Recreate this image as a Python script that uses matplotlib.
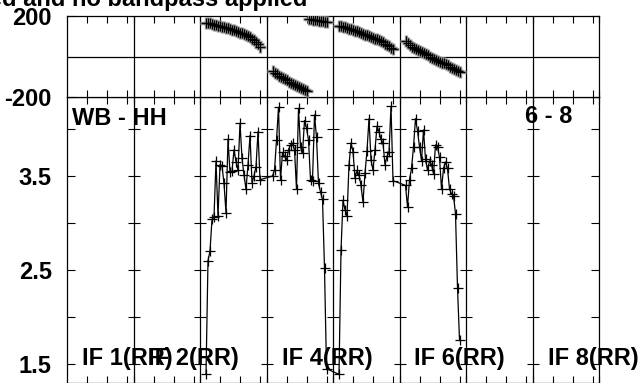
import numpy as np
import matplotlib
matplotlib.use('Agg')
import matplotlib.pyplot as plt

plt.rcParams['font.family'] = ['Liberation Sans', 'DejaVu Sans']
plt.rcParams['font.weight'] = 'bold'

# ---------------- data ----------------
n_panels = 8
panel_width = 33.25                 # channels per IF panel (x units)
channels = np.arange(3, 31)          # 28 plotted channels per IF
data_ifs = [3, 4, 5, 6]

amp_if3 = [1.39, 2.60, 2.70, 3.04, 3.06, 3.66, 3.07, 3.62, 3.61, 3.42, 3.11, 3.89, 3.54, 3.55,
           3.78, 3.65, 3.56, 4.06, 3.69, 3.51, 3.36, 3.62, 3.93, 3.43, 3.50, 3.60, 3.97, 3.46]
amp_if4 = [3.50, 3.56, 3.88, 4.23, 3.46, 3.75, 3.71, 3.67, 3.78, 3.83, 3.85, 3.78, 3.36, 4.22,
           3.81, 3.74, 4.09, 4.01, 3.88, 3.46, 3.45, 4.15, 3.91, 3.42, 3.33, 3.25, 2.52, 1.45]
amp_if5 = [1.39, 2.71, 3.24, 3.14, 3.07, 3.62, 3.85, 3.76, 3.48, 3.56, 3.51, 3.40, 3.22, 3.53,
           3.77, 4.11, 3.67, 3.56, 3.78, 4.03, 3.97, 3.89, 3.85, 3.62, 3.71, 3.75, 4.24, 3.45]
amp_if6 = [3.40, 3.17, 3.46, 3.58, 3.81, 4.11, 3.98, 3.81, 3.66, 3.99, 3.68, 3.56, 3.66, 3.62,
           3.52, 3.83, 3.81, 3.70, 3.36, 3.58, 3.65, 3.58, 3.36, 3.31, 3.29, 3.10, 2.31, 1.76]

phase_if3 = [167, 165, 163, 160, 158, 155, 153, 150, 148, 145, 142, 139, 136, 133,
             129, 126, 122, 118, 114, 110, 105, 100, 94, 88, 80, 72, 60, 45]
phase_if4 = [-74, -81, -87, -94, -100, -106, -112, -118, -124, -130, -135, -140, -145, -150,
             -155, -160, -165, -170, 186, 184, 182, 180, 178, 177, 175, 173, 171, 169]
phase_if5 = [153, 151, 148, 145, 142, 138, 135, 131, 127, 124, 120, 116, 112, 108,
             104, 100, 96, 92, 88, 84, 80, 75, 70, 64, 58, 51, 43, 35]
phase_if6 = [78, 66, 55, 48, 42, 36, 31, 26, 21, 16, 11, 5, 0, -5,
             -10, -15, -20, -25, -30, -34, -39, -44, -50, -55, -61, -67, -73, -78]

amps = [amp_if3, amp_if4, amp_if5, amp_if6]
phases = [phase_if3, phase_if4, phase_if5, phase_if6]

if_labels = ["IF 1(RR)", "IF 2(RR)", "IF 4(RR)", "IF 6(RR)", "IF 8(RR)"]
if_label_panels = [1, 2, 4, 6, 8]

amp_major = [1.5, 2.5, 3.5]
amp_minor = [2.0, 3.0, 4.0]
phase_ticks = [-200, 200]
chan_ticks = [10, 20, 30]

title_text = "ed and no bandpass applied"
left_label = "WB - HH"
right_label = "6 - 8"

# ---------------- figure ----------------
W, H = 642, 383
fig = plt.figure(figsize=(W / 100, H / 100), dpi=100)

x0 = 67 / W
wid = 532 / W
ax_amp = fig.add_axes([x0, 0.0, wid, (H - 97) / H])
ax_ph = fig.add_axes([x0, (H - 97) / H, wid, 81 / H])

xmax = n_panels * panel_width
boundaries = [k * panel_width for k in range(1, n_panels)]
xt = []
for k in range(n_panels):
    for c in chan_ticks:
        xt.append(k * panel_width + c)
    xt.append((k + 1) * panel_width)

for ax in (ax_amp, ax_ph):
    ax.set_xlim(0, xmax)
    ax.set_xticks(xt)
    ax.set_xticklabels([])
    ax.tick_params(axis='x', direction='in', top=True, bottom=True, length=5, width=0.8)
    for s in ax.spines.values():
        s.set_linewidth(0.9)
        s.set_color('black')
    for b in boundaries:
        ax.axvline(b, color='black', lw=0.9, zorder=1)

# amplitude panel
ax_amp.set_ylim(1.298, 4.340)
ax_amp.set_yticks(amp_major)
ax_amp.set_yticklabels([f"{v:.1f}" for v in amp_major])
ax_amp.set_yticks(amp_minor, minor=True)
ax_amp.tick_params(axis='y', which='both', direction='in', left=True, right=True,
                   length=6, width=0.8, labelsize=17, pad=11)

# phase panel
ax_ph.set_ylim(-200, 200)
ax_ph.set_yticks(phase_ticks)
ax_ph.set_yticklabels([str(v) for v in phase_ticks])
ax_ph.tick_params(axis='y', direction='in', left=True, right=True, length=6,
                  width=0.8, labelsize=17, pad=11)
ax_ph.axhline(0, color='black', lw=0.9)

# ticks on the interior panel boundaries of the amplitude plot
bx, by = np.meshgrid(boundaries, amp_major + amp_minor)
ax_amp.plot(bx.ravel(), by.ravel(), ls='none', marker='_', ms=8, mew=0.8, color='black')

# data
xall, aall = [], []
for ifn, a, p in zip(data_ifs, amps, phases):
    xs = (ifn - 1) * panel_width + channels
    xall.extend(xs)
    aall.extend(a)
    ax_ph.plot(xs, p, ls='none', marker='+', ms=8, mew=2.4, color='#9a9a9a', zorder=3)
    ax_ph.plot(xs, p, ls='none', marker='+', ms=6.5, mew=0.9, color='black', zorder=4)
ax_amp.plot(xall, aall, color='black', lw=0.9, marker='+', ms=6.5, mew=0.9, zorder=4)

# labels
for lab, pn in zip(if_labels, if_label_panels):
    ax_amp.text((pn - 1) * panel_width + 7.5, 1.49, lab, fontsize=17, fontweight='bold',
                ha='left', va='baseline', zorder=5)
ax_amp.text(2.5, 4.04, left_label, fontsize=17, fontweight='bold', ha='left', va='baseline')
ax_amp.text(229, 4.06, right_label, fontsize=17, fontweight='bold', ha='left', va='baseline')

fig.text(307 / W, 1 - 6 / H, title_text, fontsize=17, fontweight='bold',
         ha='right', va='baseline')

fig.savefig('out.png', dpi=100)
